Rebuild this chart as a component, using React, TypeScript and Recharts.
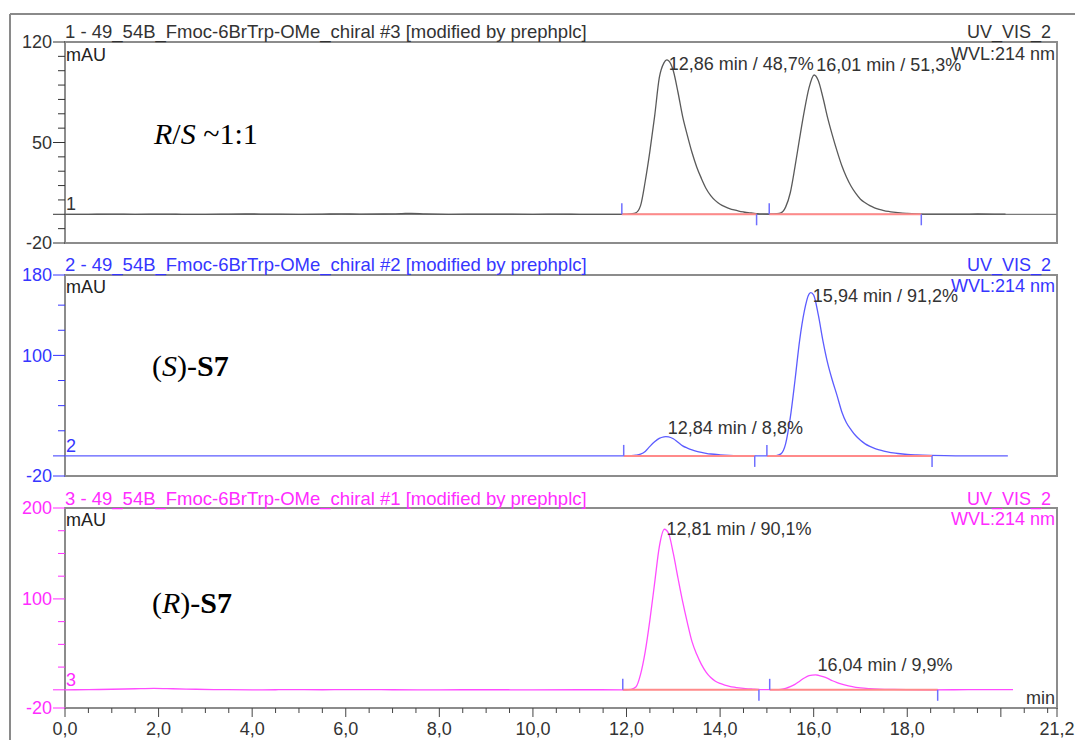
import {
    LineChart,
    Line,
    XAxis,
    YAxis,
    ReferenceArea,
    ReferenceLine,
    ReferenceDot,
} from "recharts";

const FONT = '"Liberation Sans", Arial, sans-serif';
const SERIF = '"Liberation Serif", "Times New Roman", serif';
const X_MAX = 21.2;

// retention time axis (min)
const xTicks = [
    0, 0.5, 1, 1.5, 2, 2.5, 3, 3.5, 4, 4.5, 5, 5.5, 6, 6.5, 7, 7.5, 8, 8.5, 9, 9.5, 10, 10.5,
    11, 11.5, 12, 12.5, 13, 13.5, 14, 14.5, 15, 15.5, 16, 16.5, 17, 17.5, 18, 18.5, 19, 19.5,
    20, 20.5, 21, 21.2,
];
const xLongTicks = [0, 2, 4, 6, 8, 10, 12, 14, 16, 18, 20, 21.2];
const xLabelTicks = [0, 2, 4, 6, 8, 10, 12, 14, 16, 18, 21.2];

// panel 1 - racemic (#3)
const trace1: [number, number][] = [
    [0, 0], [0.5, 0], [1, 0.1], [1.5, 0], [2, 0.1], [2.5, 0], [3, 0], [3.5, 0.1], [4, 0.2],
    [4.5, 0.1], [5, 0], [5.5, 0.1], [5.9, 0.3], [6.3, 0.1], [6.8, 0.2], [7.2, 0.5], [7.4, 0.7],
    [7.7, 0.3], [8.2, 0], [9, 0.1], [10, 0], [10.5, 0.1], [11, 0], [11.5, 0], [11.9, 0], [12.0, 0],
    [12.1, 0.3], [12.2, 1], [12.3, 6], [12.4, 23], [12.5, 44], [12.6, 68], [12.7, 95], [12.8, 105.5],
    [12.86, 107.5], [12.9, 107], [13.0, 100], [13.1, 85], [13.2, 68], [13.3, 55], [13.4, 43],
    [13.5, 33], [13.6, 25], [13.7, 18], [13.8, 13], [13.9, 9.5], [14.0, 7], [14.1, 5.3], [14.2, 4],
    [14.3, 3], [14.4, 2.2], [14.5, 1.6], [14.6, 1.1], [14.7, 0.8], [14.8, 0.5], [14.9, 0.3],
    [15.0, 0.2], [15.1, 0.2], [15.2, 0.4], [15.3, 1], [15.4, 5], [15.5, 15], [15.6, 33], [15.7, 53],
    [15.8, 72], [15.9, 88], [16.01, 97], [16.1, 93], [16.2, 81], [16.3, 67], [16.4, 55], [16.5, 44],
    [16.6, 34], [16.7, 26], [16.8, 19.5], [16.9, 14.5], [17.0, 10.5], [17.1, 8], [17.2, 6],
    [17.3, 4.5], [17.4, 3.4], [17.5, 2.6], [17.6, 2], [17.7, 1.5], [17.8, 1.1], [17.9, 0.8],
    [18.0, 0.6], [18.2, 0.3], [18.5, 0.1], [19, 0.1], [19.5, 0.2], [20.1, 0.1],
];
const peaks1 = [
    { t: 12.86, v: 107.5, text: "12,86 min / 48,7%" },
    { t: 16.01, v: 97, text: "16,01 min / 51,3%" },
];
const segments1: [number, number][] = [[11.9, 14.78], [15.05, 18.3]];

// panel 2 - (S) (#2)
const trace2: [number, number][] = [
    [0, 0], [1, 0.1], [2, 0], [3, 0.1], [4, 0], [5, 0.1], [6, 0], [7, 0.1], [8, 0], [9, 0.1],
    [10, 0], [11, 0], [11.9, 0], [12.0, 0], [12.1, 0.2], [12.2, 0.7], [12.3, 1.8], [12.4, 4.5],
    [12.5, 9.5], [12.6, 14], [12.7, 17.5], [12.8, 19], [12.84, 19.2], [12.9, 19], [13.0, 17],
    [13.1, 13.5], [13.2, 10], [13.3, 7.8], [13.4, 6], [13.5, 4.6], [13.6, 3.5], [13.7, 2.6],
    [13.8, 1.9], [14.0, 1.1], [14.2, 0.6], [14.5, 0.3], [14.8, 0.1], [15.0, 0], [15.1, 0],
    [15.2, 0.3], [15.3, 2], [15.4, 12], [15.5, 38], [15.6, 75], [15.7, 115], [15.8, 144],
    [15.9, 161], [15.94, 162.4], [16.0, 160], [16.1, 140], [16.2, 114], [16.3, 92], [16.4, 75],
    [16.5, 60], [16.6, 44], [16.7, 33], [16.8, 26], [16.9, 20], [17.0, 15.5], [17.1, 12],
    [17.2, 9.5], [17.3, 7.5], [17.4, 6], [17.5, 4.8], [17.6, 3.8], [17.7, 3], [17.8, 2.4],
    [17.9, 1.9], [18.0, 1.5], [18.2, 1], [18.5, 0.5], [18.8, 0.2], [19.2, 0], [20.15, 0],
];
const peaks2 = [
    { t: 12.84, v: 19.2, text: "12,84 min / 8,8%" },
    { t: 15.94, v: 162.4, text: "15,94 min / 91,2%" },
];
const segments2: [number, number][] = [[11.94, 14.74], [15.0, 18.53]];

// panel 3 - (R) (#1)
const trace3: [number, number][] = [
    [0, 0], [0.5, 0.2], [1, 0.6], [1.5, 1.2], [1.9, 1.6], [2.3, 1.2], [2.8, 0.6], [3.3, 0.2],
    [4, 0], [4.5, 0.1], [5, 0.2], [5.5, 0.1], [6, 0.3], [6.5, 0.2], [7, 0.1], [8, 0], [9, 0.1],
    [10, 0], [11, 0.1], [11.9, 0], [12.0, 0], [12.1, 0.5], [12.2, 3], [12.3, 17], [12.4, 42],
    [12.5, 77], [12.6, 117], [12.7, 157], [12.81, 176.6], [12.9, 172], [13.0, 150], [13.1, 123],
    [13.2, 97], [13.3, 74], [13.4, 53], [13.5, 39], [13.6, 28], [13.7, 19.5], [13.8, 13.5],
    [13.9, 9.5], [14.0, 7], [14.1, 5.2], [14.2, 3.9], [14.3, 2.9], [14.4, 2.1], [14.5, 1.5],
    [14.6, 1.1], [14.7, 0.8], [14.8, 0.5], [15.0, 0.2], [15.2, 0.2], [15.3, 0.5], [15.4, 1.5],
    [15.5, 3.5], [15.6, 6], [15.7, 9.5], [15.8, 13], [15.9, 15.5], [16.04, 16.4], [16.1, 16],
    [16.2, 14.5], [16.3, 12.5], [16.4, 10], [16.5, 8], [16.6, 6.3], [16.7, 4.8], [16.8, 3.7],
    [16.9, 2.8], [17.0, 2.1], [17.2, 1.3], [17.4, 0.8], [17.7, 0.4], [18.0, 0.2], [18.5, 0],
    [19, 0.1], [19.5, 0.3], [20.26, 0.3],
];
const peaks3 = [
    { t: 12.81, v: 176.6, text: "12,81 min / 90,1%" },
    { t: 16.04, v: 16.4, text: "16,04 min / 9,9%" },
];
const segments3: [number, number][] = [[11.92, 14.83], [15.06, 18.65]];

// y axes (mAU)
const yTicks1 = [-20, -10, 0, 10, 20, 30, 40, 50, 60, 70, 80, 90, 100, 110, 120];
const yLabels1 = [120, 50, -20];
const yTicks2 = [-20, 0, 25, 50, 75, 100, 125, 150, 180];
const yLabels2 = [180, 100, -20];
const yTicks3 = [-20, 0, 25, 50, 75, 100, 125, 150, 175, 200];
const yLabels3 = [200, 100, -20];

const fmt = (t: number) => t.toFixed(1).replace(".", ",");

const makeYTick = (labels: number[], color: string) => (props: any) => {
    const { x, y, payload } = props;
    const v = payload.value;
    const long = labels.includes(v) || v === 0;
    return (
        <g>
            <line x1={x - (long ? 12 : 7)} y1={y} x2={x} y2={y} stroke={color} strokeWidth={1} />
            {labels.includes(v) && (
                <text x={x - 13} y={y} dy="0.35em" textAnchor="end" fill={color} fontSize={18} fontFamily={FONT}>
                    {v}
                </text>
            )}
        </g>
    );
};

const renderXTick = (props: any) => {
    const { x, y, payload } = props;
    const v = payload.value;
    const long = xLongTicks.includes(v);
    return (
        <g>
            <line x1={x} y1={y} x2={x} y2={y + (long ? 9 : 5)} stroke="#444" strokeWidth={1} />
            {xLabelTicks.includes(v) && (
                <text x={x} y={y + 27} textAnchor="middle" fill="#333" fontSize={18} fontFamily={FONT}>
                    {fmt(v)}
                </text>
            )}
        </g>
    );
};

interface PanelProps {
    trace: [number, number][];
    peaks: { t: number; v: number; text: string }[];
    labelDy: number[];
    segments: [number, number][];
    yDomain: [number, number];
    yTicks: number[];
    yLabels: number[];
    color: string;
    lineColor: string;
    top: number;
    height: number;
    marginTop: number;
    marginBottom: number;
    showX?: boolean;
    zeroLine?: boolean;
}

const Panel = ({
    trace, peaks, labelDy, segments, yDomain, yTicks, yLabels, color, lineColor,
    top, height, marginTop, marginBottom, showX = false, zeroLine = false,
}: PanelProps) => {
    const data = trace.map(([t, v]) => ({ t, v }));
    return (
        <div style={{ position: "absolute", left: 0, top }}>
            <LineChart width={1075} height={height} data={data} margin={{ top: marginTop, right: 18, bottom: marginBottom, left: 5 }}>
                <XAxis
                    type="number"
                    dataKey="t"
                    domain={[0, X_MAX]}
                    allowDataOverflow
                    ticks={xTicks}
                    interval={0}
                    hide={!showX}
                    height={32}
                    tickSize={0}
                    tickMargin={0}
                    axisLine={false}
                    tickLine={false}
                    tick={renderXTick}
                />
                <YAxis
                    type="number"
                    domain={yDomain}
                    allowDataOverflow
                    ticks={yTicks}
                    interval={0}
                    width={60}
                    tickSize={0}
                    tickMargin={0}
                    axisLine={false}
                    tickLine={false}
                    tick={makeYTick(yLabels, color)}
                />
                <ReferenceArea
                    x1={0}
                    x2={X_MAX}
                    y1={yDomain[0]}
                    y2={yDomain[1]}
                    fill="none"
                    fillOpacity={0}
                    stroke="#8c8c8c"
                    strokeWidth={2}
                    ifOverflow="visible"
                />
                {zeroLine && <ReferenceLine y={0} stroke="#7a7a7a" strokeWidth={1.2} />}
                <Line
                    type="monotone"
                    dataKey="v"
                    stroke={lineColor}
                    strokeWidth={1.3}
                    dot={false}
                    isAnimationActive={false}
                />
                {segments.map(([s, e], i) => (
                    <ReferenceLine
                        key={`seg${i}`}
                        segment={[{ x: s, y: 0 }, { x: e, y: 0 }]}
                        stroke="#ff8a8a"
                        strokeWidth={2}
                    />
                ))}
                {segments.map(([s, e], i) => [
                    <ReferenceDot
                        key={`s${i}`}
                        x={s}
                        y={0}
                        r={0}
                        shape={(p: any) => <line x1={p.cx} y1={p.cy} x2={p.cx} y2={p.cy - 11} stroke="#6f6fff" strokeWidth={1.5} />}
                    />,
                    <ReferenceDot
                        key={`e${i}`}
                        x={e}
                        y={0}
                        r={0}
                        shape={(p: any) => <line x1={p.cx} y1={p.cy} x2={p.cx} y2={p.cy + 11} stroke="#6f6fff" strokeWidth={1.5} />}
                    />,
                ])}
                {peaks.map((pk, i) => (
                    <ReferenceDot
                        key={`pk${i}`}
                        x={pk.t}
                        y={pk.v}
                        r={0}
                        ifOverflow="visible"
                        shape={(p: any) => (
                            <text x={p.cx + 2} y={p.cy + labelDy[i]} fill="#333" fontSize={18} fontFamily={FONT}>
                                {pk.text}
                            </text>
                        )}
                    />
                ))}
            </LineChart>
        </div>
    );
};

const PanelText = ({ n, color, titleY, wvlY, numY }: { n: number; color: string; titleY: number; wvlY: number; numY: number }) => (
    <g fontFamily={FONT} fontSize={18}>
        <text x={65} y={titleY} fill={color} fontSize={18.5}>
            {`${n} - 49_54B_Fmoc-6BrTrp-OMe_chiral #${4 - n} [modified by prephplc]`}
        </text>
        <text x={1051} y={titleY} fill={color} textAnchor="end">UV_VIS_2</text>
        <text x={1055} y={wvlY} fill={color} textAnchor="end">WVL:214 nm</text>
        <text x={66} y={wvlY + 1} fill="#222">mAU</text>
        <text x={66} y={numY} fill={color}>{n}</text>
    </g>
);

const App = () => {
    return (
        <div style={{ position: "absolute", left: 0, top: 0, width: 1075, height: 740, background: "#fff", overflow: "hidden" }}>
            <Panel
                trace={trace1} peaks={peaks1} labelDy={[10, -4]} segments={segments1}
                yDomain={[-20, 120]} yTicks={yTicks1} yLabels={yLabels1}
                color="#333333" lineColor="#5a5a5a"
                top={0} height={262} marginTop={42} marginBottom={19} zeroLine
            />
            <Panel
                trace={trace2} peaks={peaks2} labelDy={[-3, 9]} segments={segments2}
                yDomain={[-20, 180]} yTicks={yTicks2} yLabels={yLabels2}
                color="#3636ff" lineColor="#5c5cff"
                top={250} height={244} marginTop={25} marginBottom={18}
            />
            <Panel
                trace={trace3} peaks={peaks3} labelDy={[6, -4]} segments={segments3}
                yDomain={[-20, 200]} yTicks={yTicks3} yLabels={yLabels3}
                color="#ff2cff" lineColor="#ff4cff"
                top={482} height={258} marginTop={26} marginBottom={0} showX
            />
            <svg width={1075} height={740} style={{ position: "absolute", left: 0, top: 0, pointerEvents: "none" }}>
                <line x1={10} y1={14} x2={1075} y2={14} stroke="#8a8a8a" strokeWidth={2} />
                <line x1={10} y1={14} x2={10} y2={740} stroke="#8a8a8a" strokeWidth={2} />
                <PanelText n={1} color="#333333" titleY={38} wvlY={60} numY={210} />
                <PanelText n={2} color="#3636ff" titleY={271} wvlY={292} numY={452} />
                <PanelText n={3} color="#ff2cff" titleY={505} wvlY={525} numY={686} />
                <text x={1055} y={704} textAnchor="end" fontFamily={FONT} fontSize={18} fill="#333">min</text>
                <g fontFamily={SERIF} fontSize={30} fill="#000">
                    <text x={154} y={144}>
                        <tspan fontStyle="italic">R</tspan>/<tspan fontStyle="italic">S</tspan> ~1:1
                    </text>
                    <text x={152} y={376}>
                        (<tspan fontStyle="italic">S</tspan>)-<tspan fontWeight="bold">S7</tspan>
                    </text>
                    <text x={152} y={613}>
                        (<tspan fontStyle="italic">R</tspan>)-<tspan fontWeight="bold">S7</tspan>
                    </text>
                </g>
            </svg>
        </div>
    );
};

export default App;
